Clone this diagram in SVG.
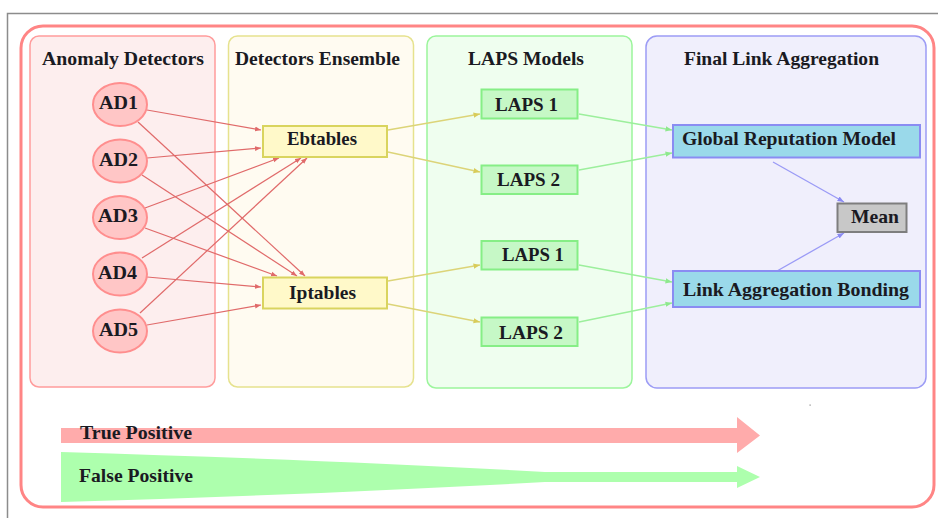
<svg xmlns="http://www.w3.org/2000/svg" width="938" height="518" viewBox="0 0 938 518">
  <defs>
    <style>
      text { font-family: "Liberation Serif", "Times New Roman", serif; font-weight: bold; font-size: 19px; fill: #1a1a22; }
      .panel { stroke-width: 1.5; }
      .ad { fill: #ffc6c6; stroke: #ff8e8e; stroke-width: 2; }
      .fw { fill: #fff9c9; stroke: #d9d45e; stroke-width: 2; }
      .laps { fill: #c6f8c6; stroke: #86ee86; stroke-width: 2; }
      .agg { fill: #9ad9ea; stroke: #8a8cf2; stroke-width: 2; }
      .mean { fill: #c8c8c8; stroke: #7e7e7e; stroke-width: 2; }
      .e-red { stroke: #e06a6a; stroke-width: 1.2; fill: none; marker-end: url(#ah-red); }
      .e-yel { stroke: #dcd478; stroke-width: 1.3; fill: none; marker-end: url(#ah-yel); }
      .e-grn { stroke: #9cef9c; stroke-width: 1.3; fill: none; marker-end: url(#ah-grn); }
      .e-blu { stroke: #9a9af6; stroke-width: 1.3; fill: none; marker-end: url(#ah-blu); }
    </style>
    <marker id="ah-red" viewBox="0 0 10 10" refX="10" refY="5" markerWidth="5" markerHeight="5" orient="auto" markerUnits="strokeWidth">
      <path d="M0,1 L10,5 L0,9 z" fill="#e06a6a"/>
    </marker>
    <marker id="ah-yel" viewBox="0 0 10 10" refX="10" refY="5" markerWidth="5" markerHeight="5" orient="auto" markerUnits="strokeWidth">
      <path d="M0,1 L10,5 L0,9 z" fill="#d8cc5a"/>
    </marker>
    <marker id="ah-grn" viewBox="0 0 10 10" refX="10" refY="5" markerWidth="5" markerHeight="5" orient="auto" markerUnits="strokeWidth">
      <path d="M0,1 L10,5 L0,9 z" fill="#8ee88e"/>
    </marker>
    <marker id="ah-blu" viewBox="0 0 10 10" refX="10" refY="5" markerWidth="5" markerHeight="5" orient="auto" markerUnits="strokeWidth">
      <path d="M0,1 L10,5 L0,9 z" fill="#8a8af2"/>
    </marker>
  </defs>

  <rect width="938" height="518" fill="#ffffff"/>
  <!-- gray frame -->
  <path d="M7.5,518 L7.5,13.5 L938,13.5" fill="none" stroke="#8c8c8c" stroke-width="1.5"/>
  <!-- outer red rounded border -->
  <rect x="21" y="26" width="913" height="481" rx="22" ry="22" fill="#ffffff" stroke="#ff8585" stroke-width="3"/>

  <!-- panels -->
  <g id="panel-anomaly">
    <rect class="panel" x="30" y="36" width="185" height="351" rx="9" fill="#fdeeee" stroke="#ff9c9c"/>
    <text x="42" y="65" textLength="162" lengthAdjust="spacingAndGlyphs">Anomaly Detectors</text>
  </g>
  <g id="panel-ensemble">
    <rect class="panel" x="228.5" y="36" width="185" height="351" rx="9" fill="#fffbf1" stroke="#e6e28e"/>
    <text x="235" y="65" textLength="165" lengthAdjust="spacingAndGlyphs">Detectors Ensemble</text>
  </g>
  <g id="panel-laps">
    <rect class="panel" x="427" y="36" width="205" height="352" rx="9" fill="#effeef" stroke="#9cf59c"/>
    <text x="468" y="65" textLength="116" lengthAdjust="spacingAndGlyphs">LAPS Models</text>
  </g>
  <g id="panel-final">
    <rect class="panel" x="646" y="36" width="280" height="352" rx="11" fill="#f0effc" stroke="#9c9cf5"/>
    <text x="684" y="65" textLength="195" lengthAdjust="spacingAndGlyphs">Final Link Aggregation</text>
  </g>

  <!-- connectors -->
  <g id="connectors">
    <line class="e-red" x1="147" y1="110" x2="261" y2="130"/>
    <line class="e-red" x1="138" y1="122" x2="305" y2="276"/>
    <line class="e-red" x1="147" y1="158" x2="261" y2="148"/>
    <line class="e-red" x1="142" y1="175" x2="297" y2="276"/>
    <line class="e-red" x1="145" y1="208" x2="279" y2="158"/>
    <line class="e-red" x1="145" y1="228" x2="277" y2="276"/>
    <line class="e-red" x1="142" y1="258" x2="301" y2="158"/>
    <line class="e-red" x1="147" y1="277" x2="261" y2="287"/>
    <line class="e-red" x1="140" y1="313" x2="307" y2="158"/>
    <line class="e-red" x1="147" y1="325" x2="261" y2="305"/>

    <line class="e-yel" x1="388" y1="130" x2="480" y2="114"/>
    <line class="e-yel" x1="388" y1="152" x2="480" y2="172"/>
    <line class="e-yel" x1="388" y1="281" x2="480" y2="265"/>
    <line class="e-yel" x1="388" y1="304" x2="480" y2="322"/>

    <line class="e-grn" x1="579" y1="114" x2="672" y2="130"/>
    <line class="e-grn" x1="579" y1="170" x2="672" y2="153"/>
    <line class="e-grn" x1="579" y1="265" x2="672" y2="282"/>
    <line class="e-grn" x1="579" y1="322" x2="672" y2="303"/>

    <line class="e-blu" x1="773" y1="162" x2="844" y2="202"/>
    <line class="e-blu" x1="777" y1="271" x2="844" y2="233"/>
  </g>

  <!-- nodes -->
  <g id="AD1"><ellipse class="ad" cx="120" cy="104.5" rx="27" ry="21.5"/><text x="99" y="109" textLength="39" lengthAdjust="spacingAndGlyphs">AD1</text></g>
  <g id="AD2"><ellipse class="ad" cx="120" cy="161" rx="27" ry="21.5"/><text x="99" y="166" textLength="39" lengthAdjust="spacingAndGlyphs">AD2</text></g>
  <g id="AD3"><ellipse class="ad" cx="120" cy="217.5" rx="27" ry="21.5"/><text x="98" y="222" textLength="40" lengthAdjust="spacingAndGlyphs">AD3</text></g>
  <g id="AD4"><ellipse class="ad" cx="120" cy="274" rx="27" ry="21.5"/><text x="98" y="279" textLength="39" lengthAdjust="spacingAndGlyphs">AD4</text></g>
  <g id="AD5"><ellipse class="ad" cx="120" cy="331" rx="27" ry="21.5"/><text x="99" y="336" textLength="39" lengthAdjust="spacingAndGlyphs">AD5</text></g>

  <g id="Ebtables"><rect class="fw" x="263" y="126" width="124" height="31"/><text x="287" y="145" textLength="70" lengthAdjust="spacingAndGlyphs">Ebtables</text></g>
  <g id="Iptables"><rect class="fw" x="263" y="277.5" width="124" height="31"/><text x="289" y="299" textLength="67" lengthAdjust="spacingAndGlyphs">Iptables</text></g>

  <g id="LAPS1-a"><rect class="laps" x="481.5" y="89.5" width="96" height="29"/><text x="495" y="111" textLength="63" lengthAdjust="spacingAndGlyphs">LAPS 1</text></g>
  <g id="LAPS2-a"><rect class="laps" x="481.5" y="165.5" width="96" height="28.5"/><text x="497" y="186" textLength="63" lengthAdjust="spacingAndGlyphs">LAPS 2</text></g>
  <g id="LAPS1-b"><rect class="laps" x="481.5" y="241" width="96" height="28.5"/><text x="502" y="261" textLength="62" lengthAdjust="spacingAndGlyphs">LAPS 1</text></g>
  <g id="LAPS2-b"><rect class="laps" x="481.5" y="317.5" width="96" height="28.5"/><text x="499" y="339" textLength="64" lengthAdjust="spacingAndGlyphs">LAPS 2</text></g>

  <g id="GlobalReputationModel"><rect class="agg" x="673" y="125" width="247" height="32.5"/><text x="682" y="145" textLength="214" lengthAdjust="spacingAndGlyphs">Global Reputation Model</text></g>
  <g id="LinkAggregationBonding"><rect class="agg" x="673" y="271" width="247" height="36"/><text x="683" y="296" textLength="226" lengthAdjust="spacingAndGlyphs">Link Aggregation Bonding</text></g>
  <g id="Mean"><rect class="mean" x="837.5" y="203.5" width="69" height="28.5"/><text x="851" y="223" textLength="48" lengthAdjust="spacingAndGlyphs">Mean</text></g>

  <!-- legend arrows -->
  <g id="true-positive">
    <path d="M61,428 L737,428 L737,417 L760,435.5 L737,453 L737,443 L61,443 Z" fill="#ffabab"/>
    <text x="80" y="439" textLength="112" lengthAdjust="spacingAndGlyphs">True Positive</text>
  </g>
  <g id="false-positive">
    <path d="M61,452 Q330,460 545,472 L737,472 L737,466 L760,477 L737,488 L737,482 L545,482 Q330,494 61,502 Z" fill="#adffad"/>
    <text x="79" y="482" textLength="114" lengthAdjust="spacingAndGlyphs">False Positive</text>
  </g>
  <rect x="809.5" y="404.5" width="1.2" height="1.2" fill="#888888"/>
</svg>
